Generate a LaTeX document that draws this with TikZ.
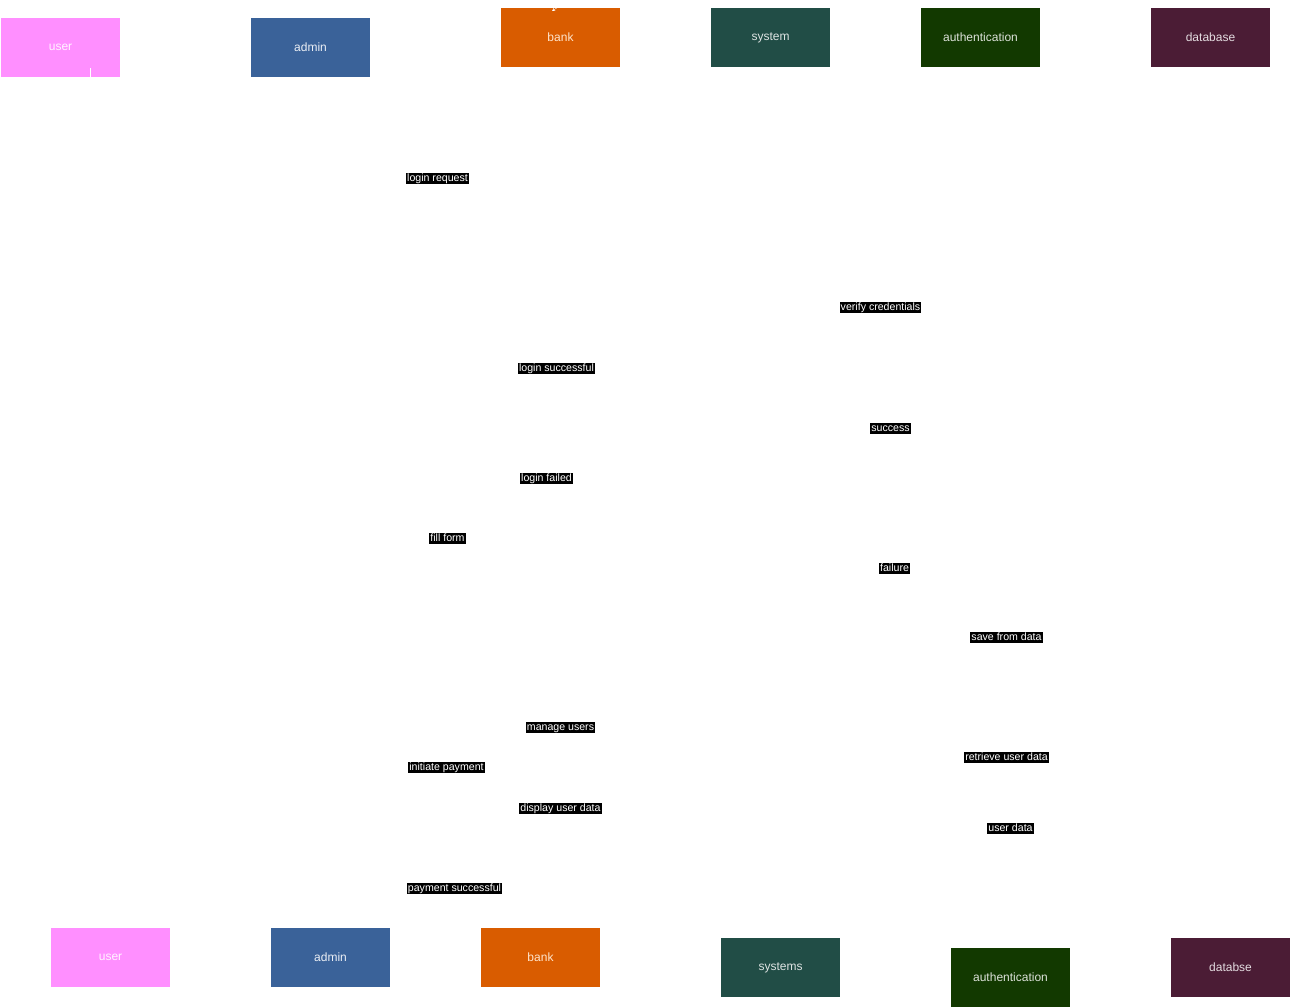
\documentclass[tikz,border=0pt]{standalone}
\usepackage{fontspec}
\setmainfont{Liberation Sans}
\usepackage{xcolor}
\usetikzlibrary{arrows,positioning,calc}

\definecolor{userpink}{HTML}{FF8FFF}
\definecolor{adminblue}{HTML}{3A6299}
\definecolor{bankorange}{HTML}{D95C00}
\definecolor{systemteal}{HTML}{214D46}
\definecolor{authgreen}{HTML}{123900}
\definecolor{dbplum}{HTML}{4B1C35}

\begin{document}
\begin{tikzpicture}[x=1pt, y=-1pt,
    actor/.style={rectangle, minimum width=119pt, minimum height=59pt, inner sep=0pt, font=\fontsize{12}{14}\selectfont},
    msg/.style={fill=black, text=white, inner xsep=1pt, inner ysep=0pt, text height=8.5pt, text depth=3pt, font=\fontsize{10.6}{12}\selectfont},
    lifeline/.style={draw=white, thin},
    arrow/.style={->, >=stealth, white, thin}
]
    \useasboundingbox[fill=white] (0,0) rectangle (1291,1008);

    % top row of participants
    \node[actor, fill=userpink, text=white!90!userpink] (usertop) at (60.5,47.5) {user};
    \node[actor, fill=adminblue, text=white!90!adminblue] (admintop) at (310.5,47.5) {admin};
    \node[actor, fill=bankorange, text=white!80!orange] (banktop) at (560.5,37.5) {bank};
    \node[actor, fill=systemteal, text=white!85!systemteal] (systemtop) at (770.5,37.5) {system};
    \node[actor, fill=authgreen, text=white!85!authgreen] (authtop) at (980.5,37.5) {authentication};
    \node[actor, fill=dbplum, text=white!85!dbplum] (dbtop) at (1210.5,37.5) {database};

    % bottom row of participants
    \node[actor, fill=userpink, text=white!90!userpink] (userbot) at (110.5,957.5) {user};
    \node[actor, fill=adminblue, text=white!90!adminblue] (adminbot) at (330.5,957.5) {admin};
    \node[actor, fill=bankorange, text=white!80!orange] (bankbot) at (540.5,957.5) {bank};
    \node[actor, fill=systemteal, text=white!85!systemteal] (systembot) at (780.5,967.5) {systems};
    \node[actor, fill=authgreen, text=white!85!authgreen] (authbot) at (1010.5,977.5) {authentication};
    \node[actor, fill=dbplum, text=white!85!dbplum] (dbbot) at (1230.5,967.5) {databse};

    % white traces left on the boxes
    \coordinate (ustub) at (90,68);
    \draw[lifeline] (ustub) -- (ustub |- usertop.south);
    \coordinate (btail) at (566,2);
    \coordinate (bhead) at (552,11);
    \draw[arrow] (btail) -- (bhead);

    % message labels
    \node[msg] (loginreq) at (437.5,178.5) {login request};
    \node[msg] (verify) at (880.5,307.5) {verify credentials};
    \node[msg] (loginok) at (556.5,368.5) {login successful};
    \node[msg] (success) at (890.5,428.5) {success};
    \node[msg] (loginfail) at (546.5,478.5) {login failed\ };
    \node[msg] (fillform) at (447.5,538.5) {fill form};
    \node[msg] (failure) at (894.5,568.5) {failure};
    \node[msg] (savedata) at (1006.5,637.5) {save from data\ };
    \node[msg] (manage) at (560.5,727.5) {manage users\ };
    \node[msg] (initpay) at (446.5,767.5) {initiate payment};
    \node[msg] (retrieve) at (1006.5,757.5) {retrieve user data\ };
    \node[msg] (display) at (560.5,808.5) {display user data};
    \node[msg] (userdata) at (1010.5,828.5) {user data};
    \node[msg] (payok) at (454.5,888.5) {payment successful\ };
\end{tikzpicture}
\end{document}
